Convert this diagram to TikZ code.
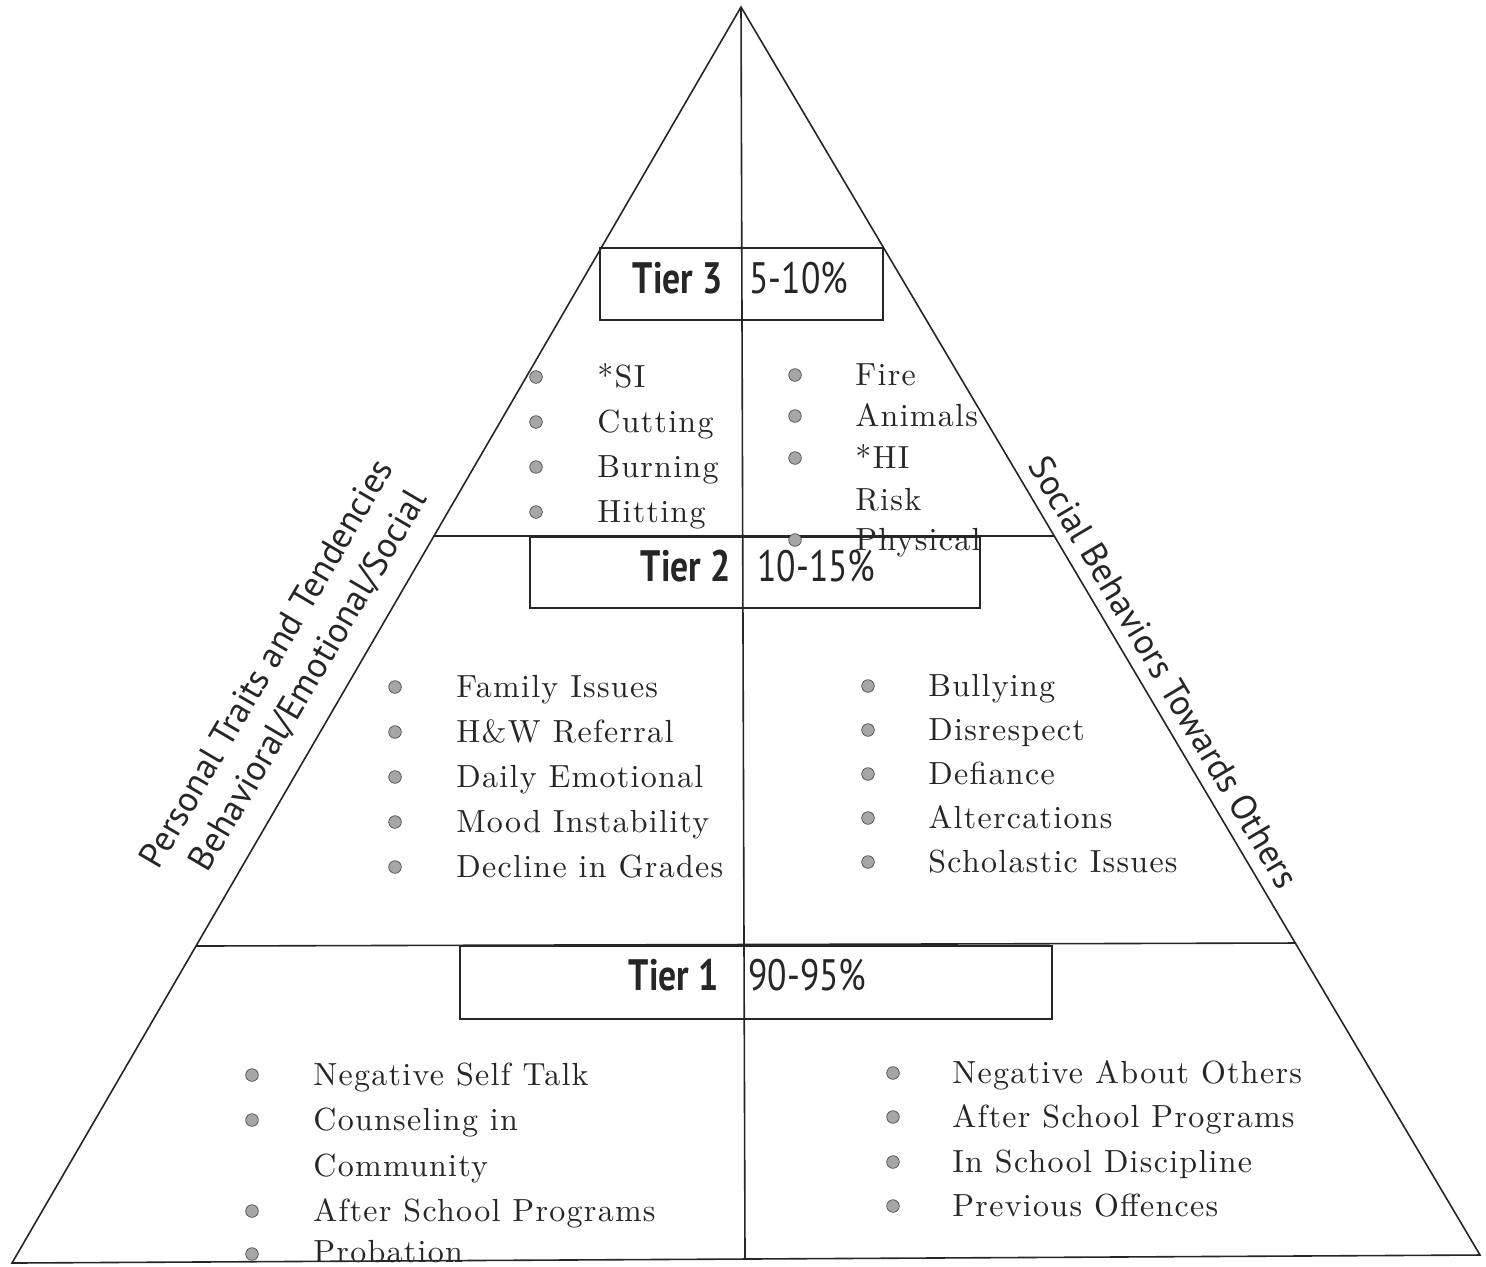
\documentclass[tikz,border=0pt]{standalone}
\usepackage{fontspec}
\usepackage{graphicx}
\newfontfamily\labfont{PT Sans}
\newfontfamily\itemfam[LetterSpace=4,Ligatures=TeX]{lmroman10-regular.otf}
\newcommand{\itemfont}{\itemfam\fontsize{16}{20}\selectfont}
\newcommand{\narrowtxt}[1]{\scalebox{0.81}[1]{#1}}
\begin{document}
\begin{tikzpicture}[x=0.5pt,y=-0.5pt,
  edge/.style={line width=0.8pt, black!85},
  itemtxt/.style={anchor=base west, inner sep=0pt, font=\itemfont, text=black!85},
  dot/.style={circle, fill=gray!70, draw=gray!60!black, line width=0.35pt, minimum size=6.3pt, inner sep=0pt},
  tiername/.style={anchor=base east, inner sep=0pt, font=\labfont\bfseries\fontsize{22}{26}\selectfont, text=black!85},
  tierpct/.style={anchor=base west, inner sep=0pt, font=\labfont\fontsize{22}{26}\selectfont, text=black!85},
  sidelab/.style={inner sep=0pt, font=\labfont\fontsize{17.8}{21}\selectfont, text=black!85}
]
\useasboundingbox (0,0) rectangle (1486,1266);
% pyramid
\coordinate (A) at (741,7);
\coordinate (BL) at (12,1263);
\coordinate (BR) at (1480,1255);
\coordinate (BM) at (745,1258);
\draw[edge] (A) -- (BL) -- (BR) -- cycle;
\draw[edge] (A) -- (BM);
\coordinate (L2) at (434,536);
\coordinate (R2) at (1054,536);
\draw[edge] (L2) -- (R2);
\coordinate (L1) at (196,946);
\coordinate (R1) at (1296,943);
\draw[edge] (L1) -- (R1);
% tier boxes
\draw[edge] (600,248) rectangle (883,320);
\draw[edge] (530,537) rectangle (980,608);
\draw[edge] (460,946) rectangle (1052,1019);
% tier labels
\node[tiername] (t3) at (723,293) {\narrowtxt{Tier 3}};
\node[tierpct] (p3) at (749,293) {\narrowtxt{5-10\%}};
\node[tiername] (t2) at (731,581) {\narrowtxt{Tier 2}};
\node[tierpct] (p2) at (757,581) {\narrowtxt{10-15\%}};
\node[tiername] (t1) at (719,990) {\narrowtxt{Tier 1}};
\node[tierpct] (p1) at (748,990) {\narrowtxt{90-95\%}};
% side labels
\node[sidelab, rotate=59.6] (lside1) at (266,663) {Personal Traits and Tendencies};
\node[sidelab, rotate=59.6] (lside2) at (309,681) {Behavioral/Emotional/Social};
\node[sidelab, rotate=-59.4] (rside) at (1164,672) {Social Behaviors Towards Others};
% Tier 3 left
\foreach \t/\y [count=\i] in {*SI/387, Cutting/432, Burning/477, Hitting/522}{
  \node[itemtxt] (a\i) at (597,\y) {\t};
  \node[dot] (ad\i) at (536,\y-10) {};
}
% Tier 3 right
\foreach \t/\y [count=\i] in {Fire/385, Animals/426, *HI/468, Risk/510, Physical/550}{
  \node[itemtxt] (b\i) at (855,\y) {\t};
}
\foreach \y [count=\i] in {375, 416, 458, 540}{
  \node[dot] (bd\i) at (795,\y) {};
}
% Tier 2 left
\foreach \t/\y [count=\i] in {Family Issues/697, H\&W Referral/742, Daily Emotional/787, Mood Instability/832, Decline in Grades/877}{
  \node[itemtxt] (c\i) at (456,\y) {\t};
  \node[dot] (cd\i) at (395,\y-10) {};
}
% Tier 2 right
\foreach \t/\y [count=\i] in {Bullying/696, Disrespect/740, Defiance/784, Altercations/828, Scholastic Issues/872}{
  \node[itemtxt] (d\i) at (928,\y) {\t};
  \node[dot] (dd\i) at (868,\y-10) {};
}
% Tier 1 left
\foreach \t/\y [count=\i] in {Negative Self Talk/1085, Counseling in/1130, Community/1176, After School Programs/1221, Probation/1262}{
  \node[itemtxt] (e\i) at (313,\y) {\t};
}
\foreach \y [count=\i] in {1075, 1120, 1211, 1254}{
  \node[dot] (ed\i) at (252,\y) {};
}
% Tier 1 right
\foreach \t/\y [count=\i] in {Negative About Others/1083, After School Programs/1127, In School Discipline/1172, Previous Offences/1216}{
  \node[itemtxt] (f\i) at (952,\y) {\t};
  \node[dot] (fd\i) at (893,\y-10) {};
}
\end{tikzpicture}
\end{document}
